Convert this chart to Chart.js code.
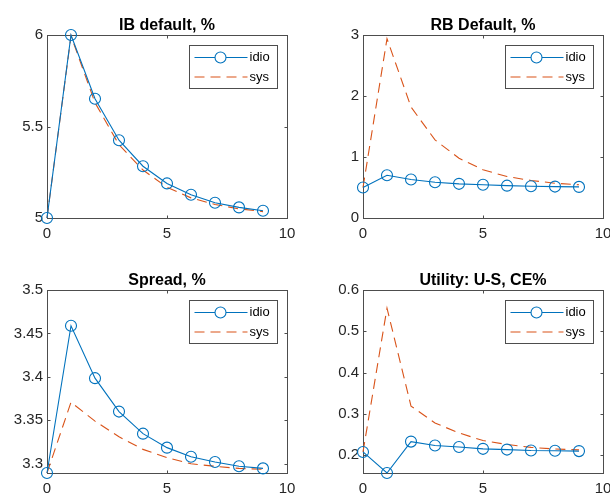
<!DOCTYPE html>
<html>
<head>
<meta charset="utf-8">
<script src="https://cdn.jsdelivr.net/npm/chart.js@4.4.1/dist/chart.umd.min.js"></script>
<style>
  html, body { margin: 0; padding: 0; background: #fff; }
  body { width: 610px; height: 496px; position: relative; overflow: hidden; }
  canvas { position: absolute; }
</style>
</head>
<body>
<canvas id="p1"></canvas>
<canvas id="p2"></canvas>
<canvas id="p3"></canvas>
<canvas id="p4"></canvas>
<script>
// data
const periods = [0, 1, 2, 3, 4, 5, 6, 7, 8, 9];
const xTicks = [0, 5, 10];
const seriesNames = ['idio', 'sys'];

const ibIdio = [5.0, 6.0, 5.652, 5.425, 5.283, 5.189, 5.127, 5.083, 5.058, 5.040];
const ibSys = [5.0, 5.995, 5.63, 5.40, 5.262, 5.168, 5.11, 5.074, 5.050, 5.035];
const ibTicks = [5, 5.5, 6];

const rbIdio = [0.50, 0.70, 0.63, 0.585, 0.56, 0.545, 0.53, 0.52, 0.515, 0.51];
const rbSys = [0.50, 2.94, 1.82, 1.28, 0.98, 0.79, 0.68, 0.615, 0.57, 0.545];
const rbTicks = [0, 1, 2, 3];

const spreadIdio = [3.2893, 3.4588, 3.3985, 3.360, 3.3346, 3.3185, 3.308, 3.302, 3.297, 3.2946];
const spreadSys = [3.2893, 3.3708, 3.349, 3.331, 3.3165, 3.307, 3.300, 3.297, 3.2946, 3.2935];
const spreadTicks = [3.3, 3.35, 3.4, 3.45, 3.5];

const utilIdio = [0.208, 0.157, 0.233, 0.2235, 0.220, 0.2155, 0.2137, 0.2113, 0.211, 0.210];
const utilSys = [0.208, 0.556, 0.319, 0.278, 0.254, 0.2355, 0.226, 0.219, 0.215, 0.213];
const utilTicks = [0.2, 0.3, 0.4, 0.5, 0.6];

const axisColor = '#4d4d4d';
const textColor = '#262626';
const idioColor = '#0072BD';
const sysColor = '#D95319';

Chart.defaults.font.family = "'Liberation Sans', Arial, Helvetica, sans-serif";
Chart.defaults.font.size = 15;
Chart.defaults.color = textColor;

// axes box, inward ticks, title and the MATLAB-ish legend
const matlabAxes = {
  id: 'matlabAxes',
  beforeDatasetsDraw(chart) {
    const { ctx, chartArea: a, scales: { x, y } } = chart;
    ctx.save();
    ctx.strokeStyle = axisColor;
    ctx.lineWidth = 1;
    const l = Math.round(a.left) + 0.5, r = Math.round(a.right) + 0.5;
    const t = Math.round(a.top) + 0.5, b = Math.round(a.bottom) + 0.5;
    ctx.strokeRect(l, t, r - l, b - t);
    ctx.beginPath();
    x.ticks.forEach(tk => {
      const px = Math.round(x.getPixelForValue(tk.value)) + 0.5;
      ctx.moveTo(px, b); ctx.lineTo(px, b - 3);
      ctx.moveTo(px, t); ctx.lineTo(px, t + 3);
    });
    y.ticks.forEach(tk => {
      const py = Math.round(y.getPixelForValue(tk.value)) + 0.5;
      ctx.moveTo(l, py); ctx.lineTo(l + 3, py);
      ctx.moveTo(r, py); ctx.lineTo(r - 3, py);
    });
    ctx.stroke();
    ctx.restore();
  },
  afterDraw(chart, args, opts) {
    const { ctx, chartArea: a } = chart;
    ctx.save();
    // title
    ctx.fillStyle = '#000';
    ctx.font = "bold 16px 'Liberation Sans', Arial, sans-serif";
    ctx.textAlign = 'center';
    ctx.textBaseline = 'alphabetic';
    ctx.fillText(opts.title, (a.left + a.right) / 2, a.top - 5);

    // legend
    const w = 88, h = 43;
    const lx = Math.round(a.right) - 10 - w + 0.5;
    const ly = Math.round(a.top) + 10 + 0.5;
    ctx.fillStyle = '#fff';
    ctx.fillRect(lx, ly, w, h);
    ctx.strokeStyle = axisColor;
    ctx.lineWidth = 1;
    ctx.strokeRect(lx, ly, w, h);
    ctx.font = "13px 'Liberation Sans', Arial, sans-serif";
    ctx.textAlign = 'left';
    ctx.textBaseline = 'middle';
    chart.data.datasets.forEach((ds, i) => {
      const ry = ly + 12 + i * 19.5;
      ctx.strokeStyle = ds.borderColor;
      ctx.lineWidth = ds.borderWidth;
      ctx.setLineDash(ds.borderDash || []);
      ctx.beginPath();
      ctx.moveTo(lx + 5, ry);
      ctx.lineTo(lx + 58, ry);
      ctx.stroke();
      ctx.setLineDash([]);
      if (ds.pointRadius > 0) {
        ctx.fillStyle = '#fff';
        ctx.beginPath();
        ctx.arc(lx + 31, ry, ds.pointRadius, 0, Math.PI * 2);
        ctx.fill();
        ctx.stroke();
      }
      ctx.fillStyle = '#000';
      ctx.fillText(ds.label, lx + 60, ry);
    });
    ctx.restore();
  }
};

function makePanel(id, pos, area, title, idio, sys, yMin, yMax, yTicks) {
  const cv = document.getElementById(id);
  cv.width = pos.w; cv.height = pos.h;
  cv.style.left = pos.x + 'px'; cv.style.top = pos.y + 'px';
  cv.style.width = pos.w + 'px'; cv.style.height = pos.h + 'px';

  new Chart(cv, {
    type: 'line',
    data: {
      datasets: [
        {
          label: seriesNames[0],
          data: periods.map((p, i) => ({ x: p, y: idio[i] })),
          borderColor: idioColor,
          borderWidth: 1.1,
          pointRadius: 5.5,
          pointBorderWidth: 1.1,
          pointBorderColor: idioColor,
          pointBackgroundColor: 'rgba(0,0,0,0)',
          tension: 0,
          clip: false
        },
        {
          label: seriesNames[1],
          data: periods.map((p, i) => ({ x: p, y: sys[i] })),
          borderColor: sysColor,
          borderWidth: 1.1,
          borderDash: [10, 6],
          pointRadius: 0,
          tension: 0,
          clip: false
        }
      ]
    },
    options: {
      responsive: false,
      animation: false,
      devicePixelRatio: 1,
      events: [],
      layout: {
        padding: { left: 0, top: area.top, right: pos.w - area.right, bottom: 0 }
      },
      plugins: {
        legend: { display: false },
        title: { display: false },
        tooltip: { enabled: false },
        matlabAxes: { title: title }
      },
      scales: {
        x: {
          type: 'linear',
          min: 0, max: 10,
          grid: { display: false, drawTicks: false },
          border: { display: false },
          ticks: { padding: 7, color: textColor, callback: v => String(v) },
          afterBuildTicks: s => { s.ticks = xTicks.map(v => ({ value: v })); },
          afterFit: s => { s.height = pos.h - area.bottom; }
        },
        y: {
          min: yMin, max: yMax,
          grid: { display: false, drawTicks: false },
          border: { display: false },
          ticks: { padding: 4, color: textColor, callback: v => String(+v.toFixed(3)) },
          afterBuildTicks: s => { s.ticks = yTicks.map(v => ({ value: v })); },
          afterFit: s => { s.width = area.left; }
        }
      }
    },
    plugins: [matlabAxes]
  });
}

makePanel('p1', { x: 0, y: 0, w: 305, h: 248 }, { left: 47, top: 35, right: 287, bottom: 218 },
  'IB default, %', ibIdio, ibSys, 5, 6, ibTicks);
makePanel('p2', { x: 305, y: 0, w: 315, h: 248 }, { left: 58, top: 35, right: 298, bottom: 218 },
  'RB Default, %', rbIdio, rbSys, 0, 3, rbTicks);
makePanel('p3', { x: 0, y: 248, w: 305, h: 248 }, { left: 47, top: 42, right: 287, bottom: 225 },
  'Spread, %', spreadIdio, spreadSys, 3.2893, 3.5, spreadTicks);
makePanel('p4', { x: 305, y: 248, w: 315, h: 248 }, { left: 58, top: 42, right: 298, bottom: 225 },
  'Utility: U-S, CE%', utilIdio, utilSys, 0.157, 0.6, utilTicks);
</script>
</body>
</html>
